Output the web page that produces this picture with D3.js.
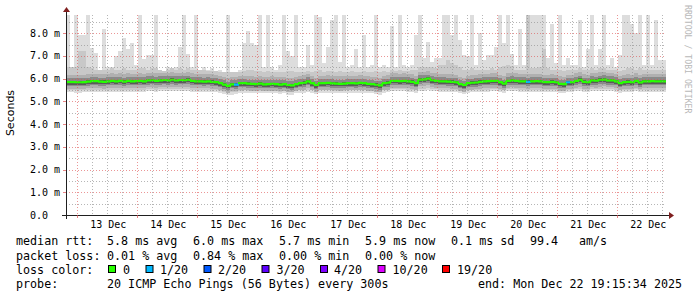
<!DOCTYPE html>
<html><head><meta charset="utf-8">
<script src="https://cdn.jsdelivr.net/npm/d3@7"></script>
<style>
body{margin:0;background:#fff}
svg{display:block}
text{font-family:"DejaVu Sans Mono",monospace}
</style>
</head><body>
<svg id="c" width="697" height="297"></svg>
<script>
// ---- data (ms), one column per 96 minutes ----
const startTime = new Date("2025-12-12T19:29:00Z");
const endTime   = new Date("2025-12-22T19:29:00Z");
const stepMinutes = 96;

const median = [
5.85,5.85,5.85,5.84,5.85,5.87,5.89,5.89,5.87,5.86,
5.88,5.90,5.88,5.90,5.87,5.90,5.88,5.89,5.90,5.88,
5.92,5.93,5.90,5.92,5.94,5.92,5.95,5.92,5.94,5.93,
5.95,5.90,5.88,5.88,5.87,5.88,5.86,5.85,5.80,5.74,
5.68,5.75,5.74,5.80,5.80,5.78,5.77,5.76,5.78,5.75,
5.76,5.77,5.76,5.74,5.76,5.72,5.70,5.76,5.80,5.82,
5.88,5.80,5.72,5.80,5.80,5.81,5.79,5.78,5.77,5.78,
5.80,5.80,5.79,5.81,5.80,5.77,5.76,5.73,5.70,5.80,
5.82,5.90,5.90,5.89,5.90,5.88,5.86,5.80,5.96,5.97,
6.00,5.93,5.90,5.88,5.88,5.87,5.86,5.84,5.76,5.72,
5.80,5.82,5.83,5.86,5.88,5.89,5.90,5.90,5.85,5.78,
5.90,5.92,5.90,5.88,5.88,5.86,5.88,5.89,5.88,5.85,
5.85,5.86,5.84,5.77,5.76,5.84,5.85,5.90,5.95,5.86,
5.85,5.92,5.91,5.95,5.96,5.92,5.92,5.88,5.80,5.85,
5.86,5.85,5.90,5.83,5.88,5.88,5.89,5.88,5.88,5.88];

const maxPing = [
8.8,6.5,8.8,7.9,7.9,8.8,7.35,7.15,6.4,8.2,
6.5,6.5,7.0,7.2,7.8,7.3,7.55,6.6,8.8,6.85,
7.05,7.05,8.8,6.4,6.3,6.5,6.4,6.5,7.4,8.8,
7.1,6.5,8.8,6.4,6.5,6.4,6.45,6.3,6.4,6.3,
8.8,6.3,6.2,6.4,7.55,8.1,7.55,7.5,8.8,6.5,
8.8,6.5,6.4,6.6,8.8,7.2,7.0,8.8,6.5,6.5,
7.5,6.6,8.8,8.7,6.7,7.4,8.6,8.8,6.75,8.8,
6.5,6.6,7.3,6.5,7.9,6.5,6.6,8.8,6.5,6.6,
6.5,8.3,6.5,8.8,6.6,6.5,6.6,7.9,8.8,6.9,
7.6,6.75,6.9,6.9,8.8,8.8,7.9,8.8,7.7,7.05,
7.0,8.8,6.6,8.0,6.8,7.05,7.05,7.4,8.8,7.55,
8.8,7.1,6.6,8.2,6.6,8.8,8.8,8.8,8.8,8.8,
6.9,8.4,6.7,8.8,6.6,6.9,6.6,6.6,8.6,6.5,
7.3,8.8,6.6,7.3,8.8,6.6,6.9,6.5,7.05,8.8,
8.8,8.4,8.0,8.8,6.6,8.8,6.6,8.6,6.8,6.8];

const upper = [
6.5,6.5,6.5,7.2,7.2,6.5,6.45,6.4,6.4,6.4,
6.4,6.45,6.4,6.4,6.45,6.4,6.4,6.4,6.45,6.45,
6.4,6.45,6.45,6.4,6.35,6.4,6.45,6.4,6.45,6.4,
6.45,6.4,6.4,6.4,6.4,6.35,6.35,6.35,6.3,6.3,
6.3,6.3,6.3,6.3,6.35,6.4,6.4,6.35,6.35,6.3,
6.35,6.3,6.3,6.3,6.3,6.35,6.35,6.3,6.3,6.3,
6.35,6.3,6.35,6.4,6.3,6.35,6.35,6.3,6.35,6.3,
6.3,6.35,6.3,6.3,6.35,6.3,6.3,6.35,6.3,6.35,
6.3,6.4,6.35,6.4,6.35,6.35,6.4,6.4,6.5,6.5,
6.5,6.5,6.45,6.6,6.6,6.8,6.7,6.6,6.5,6.4,
6.4,6.45,6.4,6.4,6.4,6.4,6.45,6.4,6.5,6.55,
6.6,6.55,6.4,6.4,6.4,8.8,6.45,6.45,6.5,7.3,
6.45,6.4,6.4,6.4,6.35,6.4,6.4,6.4,6.45,6.4,
6.4,6.45,6.4,6.45,6.45,6.4,6.4,6.4,6.35,6.4,
6.45,6.45,6.4,6.45,6.4,6.4,6.4,6.4,6.4,6.4];

const lower = [
5.4,5.4,5.38,5.38,5.4,5.4,5.42,5.4,5.42,5.4,
5.42,5.4,5.42,5.42,5.4,5.42,5.42,5.4,5.42,5.4,
5.45,5.45,5.42,5.45,5.45,5.45,5.45,5.45,5.45,5.45,
5.45,5.42,5.4,5.42,5.4,5.4,5.4,5.4,5.35,5.32,
5.3,5.3,5.32,5.35,5.38,5.35,5.35,5.35,5.35,5.35,
5.35,5.35,5.35,5.32,5.35,5.3,5.3,5.35,5.38,5.38,
5.4,5.38,5.32,5.38,5.38,5.38,5.38,5.35,5.35,5.35,
5.38,5.38,5.38,5.38,5.38,5.35,5.35,5.32,5.3,5.38,
5.4,5.45,5.45,5.45,5.45,5.42,5.42,5.38,5.45,5.45,
5.48,5.45,5.45,5.42,5.42,5.42,5.42,5.4,5.35,5.32,
5.38,5.4,5.4,5.42,5.42,5.42,5.45,5.45,5.42,5.38,
5.45,5.45,5.45,5.42,5.42,5.42,5.42,5.42,5.42,5.4,
5.4,5.42,5.4,5.35,5.35,5.4,5.4,5.45,5.45,5.42,
5.42,5.45,5.45,5.45,5.45,5.45,5.45,5.42,5.38,5.42,
5.42,5.42,5.45,5.4,5.42,5.42,5.42,5.42,5.42,5.42];

// lost pings out of 20 per column
const loss = [
0,0,0,0,0,0,0,0,0,0, 0,0,0,0,0,0,0,0,0,0, 0,0,0,0,0,0,0,0,0,0,
0,0,0,0,0,0,0,0,0,0, 0,0,1,0,0,0,0,0,0,0, 0,0,0,0,0,0,0,0,0,0,
0,0,0,0,0,0,0,0,0,0, 0,0,0,0,0,0,0,0,0,0, 0,0,0,0,0,0,0,0,0,0,
0,0,0,0,0,0,0,0,0,0, 0,0,0,0,0,0,0,0,0,0, 0,0,0,0,0,1,0,0,0,0,
0,0,0,0,0,1,0,0,0,0, 0,0,0,0,0,0,0,0,0,0, 0,0,0,0,0,0,0,0,0,0];

const yTicks = [0,1,2,3,4,5,6,7,8];
const yTickLabels = ["0.0","1.0 m","2.0 m","3.0 m","4.0 m","5.0 m","6.0 m","7.0 m","8.0 m"];
const lossThresholds = [0,1,2,3,4,10,19];
const lossLabels = ["0","1/20","2/20","3/20","4/20","10/20","19/20"];
const lossColors = ["#26ff00","#00b8ff","#0059ff","#5e00ff","#7e00ff","#dd00ff","#ff0000"];

const statsRtt = [["median rtt:",16],["5.8 ms avg",107],["6.0 ms max",193],["5.7 ms min",279],["5.9 ms now",365],["0.1 ms sd",451],["99.4",530],["am/s",579]];
const statsLoss = [["packet loss:",16],["0.01 % avg",107],["0.84 % max",193],["0.00 % min",279],["0.00 % now",365]];
const probeText = "20 ICMP Echo Pings (56 Bytes) every 300s";
const endText = "end: Mon Dec 22 19:15:34 2025";

// ---- drawing ----
const svg = d3.select("#c");
const X0 = 66, X1 = 666, Y0 = 215, Y1 = 15;
const x = d3.scaleUtc().domain([startTime, endTime]).range([X0, X1]);
const y = d3.scaleLinear().domain([0, 8.8]).range([Y0, Y1]).clamp(true);

const cols = median.map((m, i) => ({
  i, m, max: maxPing[i], up: upper[i], lo: lower[i], loss: loss[i],
  t0: d3.utcMinute.offset(startTime, i * stepMinutes),
  t1: d3.utcMinute.offset(startTime, (i + 1) * stepMinutes)
}));

const smoke = svg.append("g");
function band(color, loF, hiF) {
  smoke.append("g").selectAll("rect").data(cols).join("rect")
    .attr("x", d => x(d.t0)).attr("width", d => x(d.t1) - x(d.t0))
    .attr("y", d => y(hiF(d))).attr("height", d => Math.max(0, y(loF(d)) - y(hiF(d))))
    .attr("fill", color).attr("shape-rendering", "crispEdges");
}
band("#dddddd", d => d.lo, d => d.max);
band("#c8c8c8", d => d.lo + 0.1, d => d.up);
band("#b0b0b0", d => d.m - 0.3, d => d.m + 0.33);
band("#8a8a8a", d => d.m - 0.18, d => d.m + 0.18);
band("#5a5a5a", d => d.m - 0.11, d => d.m + 0.06);

function lossColor(l) {
  let c = lossColors[0];
  lossThresholds.forEach((th, k) => { if (l >= th) c = lossColors[k]; });
  return c;
}
// median step line
const med = svg.append("g");
med.selectAll("path").data(cols).join("path")
  .attr("d", (d, k) => {
    const nx = cols[k + 1];
    let p = `M${x(d.t0)},${y(d.m)}H${x(d.t1)}`;
    if (nx) p += `V${y(nx.m)}`;
    return p;
  })
  .attr("fill", "none").attr("stroke", d => lossColor(d.loss)).attr("stroke-width", 2.2);

// grid
const grid = svg.append("g");
const minorH = d3.range(1, 18).map(k => k * 0.5).filter(v => v % 1 !== 0);
const majorH = yTicks.filter(v => v > 0);
grid.selectAll(".mh").data(minorH).join("line")
  .attr("x1", X0).attr("x2", X1)
  .attr("y1", v => Math.round(y(v)) + 0.5).attr("y2", v => Math.round(y(v)) + 0.5)
  .attr("stroke", "rgba(143,143,143,0.65)").attr("stroke-dasharray", "1,2");
grid.selectAll(".Mh").data(majorH).join("line")
  .attr("x1", X0).attr("x2", X1)
  .attr("y1", v => Math.round(y(v)) + 0.5).attr("y2", v => Math.round(y(v)) + 0.5)
  .attr("stroke", "rgba(222,80,80,0.6)").attr("stroke-dasharray", "1,2");
const hours = x.ticks(d3.utcHour.every(6)).filter(t => t > startTime && t < endTime);
grid.selectAll(".v").data(hours).join("line")
  .attr("x1", t => Math.round(x(t)) + 0.5).attr("x2", t => Math.round(x(t)) + 0.5)
  .attr("y1", Y1).attr("y2", Y0)
  .attr("stroke", t => t.getUTCHours() === 0 ? "rgba(222,80,80,0.6)" : "rgba(143,143,143,0.65)")
  .attr("stroke-dasharray", "1,2");

// axes
const ax = svg.append("g");
ax.append("line").attr("x1", 62).attr("x2", 669).attr("y1", Y0 + 0.5).attr("y2", Y0 + 0.5).attr("stroke", "#1f1f1f");
ax.append("line").attr("x1", X0 + 0.5).attr("x2", X0 + 0.5).attr("y1", 219).attr("y2", 12).attr("stroke", "#1f1f1f");
ax.append("path").attr("d", `M669,212L674,${Y0 + 0.5}L669,219Z`).attr("fill", "#7f1f1f");
ax.append("path").attr("d", `M63,12L${X0 + 0.5},7L70,12Z`).attr("fill", "#7f1f1f");
// y ticks
ax.selectAll(".yt").data(yTicks.filter(v => v > 0)).join("line")
  .attr("x1", 63).attr("x2", X0).attr("y1", v => Math.round(y(v)) + 0.5).attr("y2", v => Math.round(y(v)) + 0.5)
  .attr("stroke", "rgba(222,80,80,0.7)");
ax.selectAll(".ytl").data(yTicks).join("text")
  .attr("x", 30).attr("y", v => y(v) + 3.5)
  .attr("font-size", "10px").attr("fill", "#000")
  .attr("xml:space", "preserve")
  .text((v, k) => yTickLabels[k]);
// x ticks
const days = x.ticks(d3.utcDay.every(1)).filter(t => t > startTime && t < endTime);
ax.selectAll(".xt").data(days).join("line")
  .attr("x1", t => Math.round(x(t)) + 0.5).attr("x2", t => Math.round(x(t)) + 0.5)
  .attr("y1", Y0).attr("y2", Y0 + 3).attr("stroke", "rgba(222,80,80,0.7)");
const noons = days.map(t => d3.utcHour.offset(t, 12)).filter(t => t < endTime);
const fmt = d3.utcFormat("%d %b");
ax.selectAll(".xtl").data(noons).join("text")
  .attr("x", t => x(t) + 1).attr("y", 228)
  .attr("text-anchor", "middle").attr("font-size", "10px").attr("fill", "#000")
  .text(t => fmt(t));

// titles
svg.append("text").attr("transform", "translate(14,113) rotate(-90)")
  .attr("text-anchor", "middle").attr("font-size", "11px")
  .style("font-family", "'DejaVu Sans',sans-serif").text("Seconds");
svg.append("text").attr("transform", "translate(684.5,5) rotate(90)")
  .attr("font-size", "8.2px").attr("fill", "#b8b8b8").text("RRDTOOL / TOBI OETIKER");

// legend
const lg = svg.append("g").attr("font-size", "11.7px").attr("fill", "#000");
function row(items, yb) {
  items.forEach(([t, xp]) => lg.append("text").attr("x", xp).attr("y", yb).attr("xml:space", "preserve").text(t));
}
row(statsRtt, 245);
row(statsLoss, 259.5);
row([["loss color:", 16]], 273.5);
const sqX = [108, 145.5, 203.5, 261.5, 320, 377.5, 442];
const lbX = [123, 160, 218, 276.5, 334, 392.5, 457];
lossLabels.forEach((l, k) => {
  lg.append("rect").attr("x", sqX[k] + 0.5).attr("y", 265.5).attr("width", 7).attr("height", 7)
    .attr("fill", lossColors[k]).attr("stroke", "#000").attr("stroke-width", 1);
  lg.append("text").attr("x", lbX[k]).attr("y", 273.5).text(l);
});
row([["probe:", 16], [probeText, 107], [endText, 478]], 287.5);
</script>
</body></html>
